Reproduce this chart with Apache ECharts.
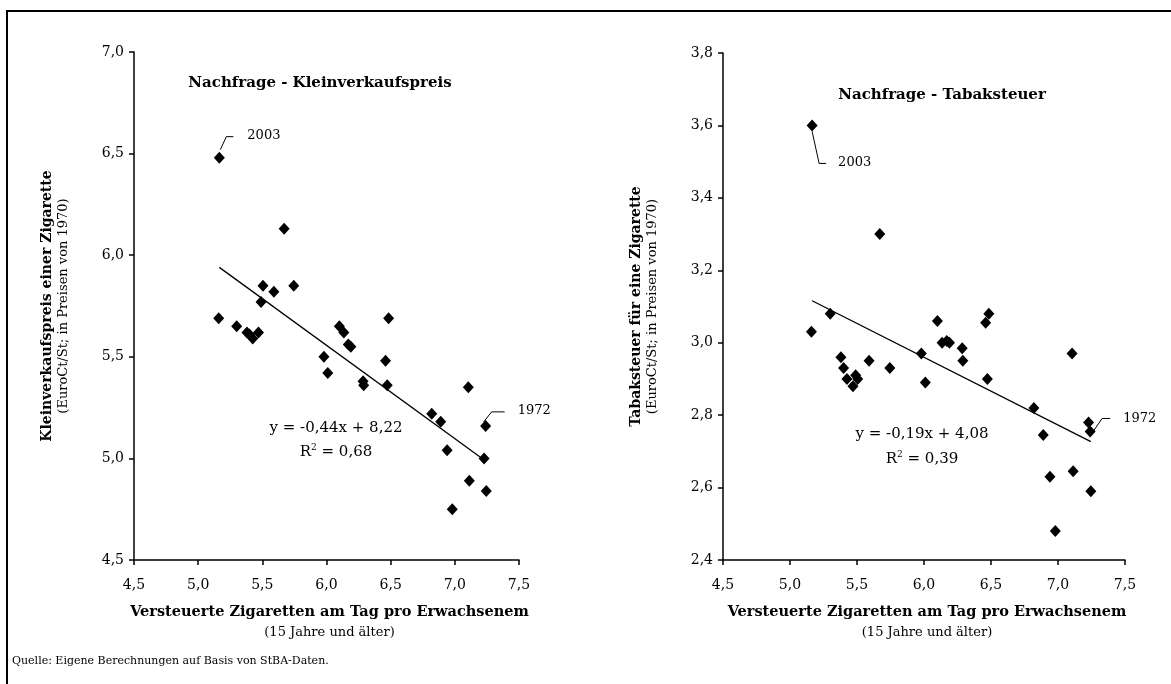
<!DOCTYPE html>
<html><head><meta charset="utf-8">
<script src="https://cdn.jsdelivr.net/npm/echarts@6/dist/echarts.min.js"></script>
<style>html,body{margin:0;padding:0;background:#fff}#c{width:1171px;height:684px}</style>
</head><body><div id="c"></div>
<script>
// Shared x values: taxed cigarettes per adult per day (index 0 = 2003, index 30 = 1972)
const consumption = [5.165, 5.16, 5.30, 5.38, 5.40, 5.425, 5.47, 5.49, 5.505, 5.59, 5.67, 5.745, 5.98, 6.01, 6.10, 6.135, 6.17, 6.19, 6.285, 6.29, 6.46, 6.473, 6.484, 6.82, 6.89, 6.94, 6.98, 7.105, 7.113, 7.228, 7.24, 7.245];
// Left chart: retail price per cigarette (EuroCt/St, 1970 prices)
const retailPrice = [6.48, 5.69, 5.65, 5.62, 5.61, 5.59, 5.62, 5.77, 5.85, 5.82, 6.13, 5.85, 5.50, 5.42, 5.65, 5.62, 5.56, 5.55, 5.38, 5.36, 5.48, 5.36, 5.69, 5.22, 5.18, 5.04, 4.75, 5.35, 4.89, 5.00, 5.16, 4.84];
// Right chart: tobacco tax per cigarette
const tobaccoTax = [3.60, 3.03, 3.08, 2.96, 2.93, 2.90, 2.88, 2.91, 2.90, 2.95, 3.30, 2.93, 2.97, 2.89, 3.06, 3.00, 3.005, 3.00, 2.985, 2.95, 3.055, 2.90, 3.08, 2.82, 2.745, 2.63, 2.48, 2.97, 2.645, 2.78, 2.755, 2.59];
// Trend lines (endpoints)
const trendX = [5.165, 7.245];
const priceTrend = [5.94, 4.985];
const taxTrend = [3.116, 2.727];
// Texts
const titles = ['Nachfrage - Kleinverkaufspreis', 'Nachfrage - Tabaksteuer'];
const yNames = ['Kleinverkaufspreis einer Zigarette', 'Tabaksteuer für eine Zigarette'];
const ySub = '(EuroCt/St; in Preisen von 1970)';
const xName = 'Versteuerte Zigaretten am Tag pro Erwachsenem';
const xSub = '(15 Jahre und älter)';
const equations = [['y = -0,44x + 8,22', 'R{s|2} = 0,68'], ['y = -0,19x + 4,08', 'R{s|2} = 0,39']];
const source = 'Quelle: Eigene Berechnungen auf Basis von StBA-Daten.';
const labelled = [{year: '2003', idx: 0}, {year: '1972', idx: 30}];

const FONT = 'DejaVu Serif';
const fmt = v => v.toFixed(1).replace('.', ',');

const chart = echarts.init(document.getElementById('c'), null, {renderer: 'canvas'});
const grids = [
  {left: 134, top: 52, width: 385, height: 508},
  {left: 723, top: 53, width: 402, height: 507}
];
function xAxis(i) {
  return {type: 'value', gridIndex: i, min: 4.5, max: 7.5, interval: 0.5,
    axisLine: {onZero: false, lineStyle: {color: '#000', width: 1.5}},
    axisTick: {show: true, length: 5, lineStyle: {color: '#000', width: 1.5}},
    axisLabel: {formatter: fmt, color: '#000', fontFamily: FONT, fontSize: 14, margin: 18},
    splitLine: {show: false}};
}
function yAxis(i, min, max, interval) {
  return {type: 'value', gridIndex: i, min: min, max: max, interval: interval,
    axisLine: {show: true, onZero: false, lineStyle: {color: '#000', width: 1.5}},
    axisTick: {show: true, length: 5, lineStyle: {color: '#000', width: 1.5}},
    axisLabel: {formatter: fmt, color: '#000', fontFamily: FONT, fontSize: 14, margin: 10},
    splitLine: {show: false}};
}
const pts = ys => consumption.map((x, i) => [x, ys[i]]);
const dia = {type: 'scatter', symbol: 'diamond', symbolSize: [11, 12], itemStyle: {color: '#000', opacity: 1}, z: 3};
chart.setOption({
  animation: false,
  backgroundColor: '#fff',
  grid: grids,
  xAxis: [xAxis(0), xAxis(1)],
  yAxis: [yAxis(0, 4.5, 7.0, 0.5), yAxis(1, 2.4, 3.8, 0.2)],
  series: [
    {type: 'line', xAxisIndex: 0, yAxisIndex: 0, data: trendX.map((x, i) => [x, priceTrend[i]]), symbol: 'none', lineStyle: {color: '#000', width: 1.3}, z: 1},
    {type: 'line', xAxisIndex: 1, yAxisIndex: 1, data: trendX.map((x, i) => [x, taxTrend[i]]), symbol: 'none', lineStyle: {color: '#000', width: 1.3}, z: 1},
    Object.assign({xAxisIndex: 0, yAxisIndex: 0, data: pts(retailPrice)}, dia),
    Object.assign({xAxisIndex: 1, yAxisIndex: 1, data: pts(tobaccoTax)}, dia)
  ]
});

// Annotations
const g = [];
const txt = (x, y, text, opts) => g.push({type: 'text', x: x, y: y, style: Object.assign({text: text, fill: '#000', font: '13px "' + FONT + '"', textAlign: 'center', textVerticalAlign: 'middle'}, opts || {})});
const line = (points, w) => g.push({type: 'polyline', shape: {points: points}, style: {stroke: '#000', lineWidth: w || 1, fill: null}});

// border
line([[7, 684], [7, 11], [1171, 11]], 2);

grids.forEach((gr, i) => {
  const cx = gr.left + gr.width / 2;
  const cy = gr.top + gr.height / 2;
  txt(i === 0 ? 320 : 942, i === 0 ? 83 : 95, titles[i], {font: 'bold 15px "' + FONT + '"'});
  txt(cx + 3, 612, xName, {font: 'bold 14.5px "' + FONT + '"'});
  txt(cx + 3, 633, xSub, {font: '13px "' + FONT + '"'});
  g.push({type: 'text', x: gr.left - 87, y: cy, rotation: Math.PI / 2, style: {text: yNames[i], fill: '#000', font: 'bold 14px "' + FONT + '"', textAlign: 'center', textVerticalAlign: 'middle'}});
  g.push({type: 'text', x: gr.left - 70, y: cy, rotation: Math.PI / 2, style: {text: ySub, fill: '#000', font: '13px "' + FONT + '"', textAlign: 'center', textVerticalAlign: 'middle'}});
});

// equations
const eqPos = [[336, 428, 452], [922, 434, 459]];
equations.forEach((e, i) => {
  txt(eqPos[i][0], eqPos[i][1], e[0], {font: '15px "' + FONT + '"'});
  g.push({type: 'text', x: eqPos[i][0], y: eqPos[i][2], style: {text: e[1], fill: '#000', font: '15px "' + FONT + '"', textAlign: 'center', textVerticalAlign: 'middle', rich: {s: {fontSize: 9, verticalAlign: 'top', fontFamily: FONT, padding: [0, 0, 8, 0]}}}});
});

// source
g.push({type: 'text', x: 12, y: 661, style: {text: source, fill: '#000', font: '11px "' + FONT + '"', textAlign: 'left', textVerticalAlign: 'middle'}});

// year labels with leader lines
const series = [retailPrice, tobaccoTax];
const leaders = [
  {'2003': [[1, -8], [7, -21], [14, -21], [28, -22]], '1972': [[-2, -4], [6, -14], [19, -14], [32, -15]]},
  {'2003': [[0, 6], [7, 38], [14, 38], [26, 37]], '1972': [[3, 0], [12, -13], [20, -13], [33, -13]]}
];
[0, 1].forEach(gi => {
  labelled.forEach(l => {
    const p = chart.convertToPixel({gridIndex: gi}, [consumption[l.idx], series[gi][l.idx]]);
    const o = leaders[gi][l.year];
    line(o.slice(0, 3).map(d => [p[0] + d[0], p[1] + d[1]]), 1);
    g.push({type: 'text', x: p[0] + o[3][0], y: p[1] + o[3][1], style: {text: l.year, fill: '#000', font: '13px "' + FONT + '"', textAlign: 'left', textVerticalAlign: 'middle'}});
  });
});
chart.setOption({graphic: g});
</script></body></html>
